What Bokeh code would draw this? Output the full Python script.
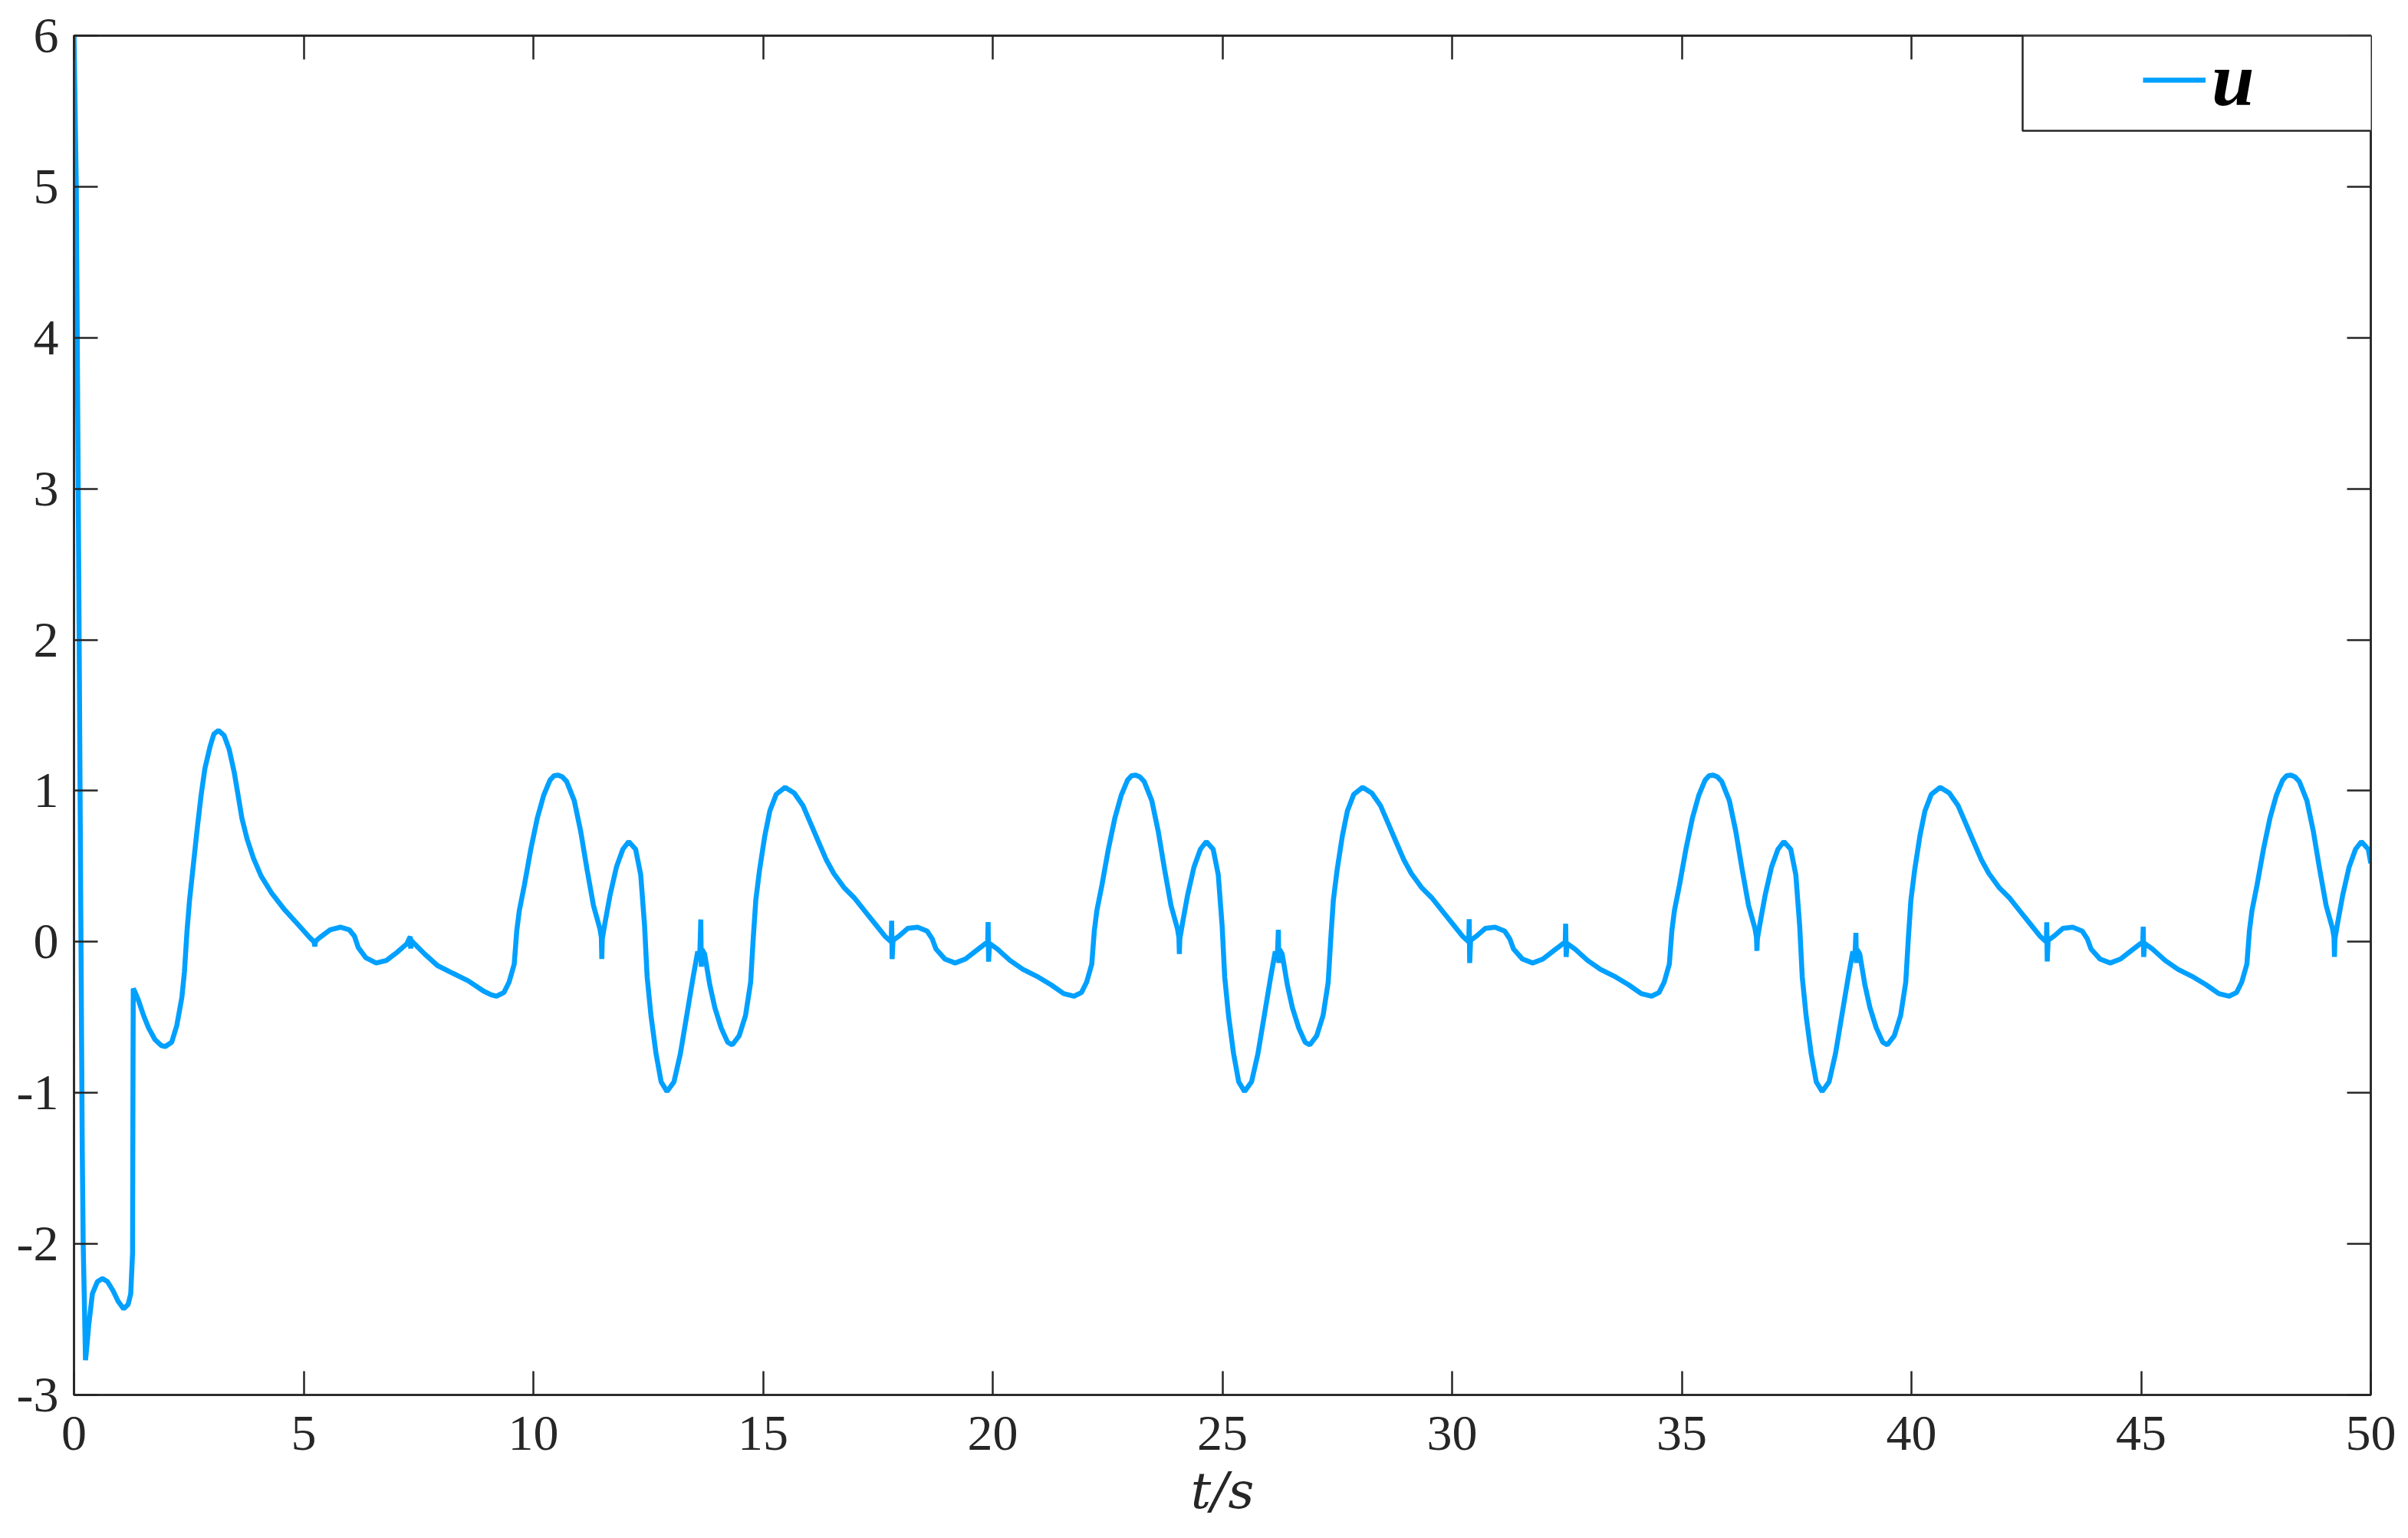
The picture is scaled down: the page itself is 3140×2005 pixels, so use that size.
from bokeh.plotting import figure
from bokeh.models import Range1d, LinearAxis, FixedTicker, Legend, LegendItem, BoxAnnotation
from bokeh.embed import file_html
from bokeh.resources import INLINE

# ---------------- data (t in s, u) ----------------
x_ticks = [0, 5, 10, 15, 20, 25, 30, 35, 40, 45, 50]
x_tick_labels = ["0", "5", "10", "15", "20", "25", "30", "35", "40", "45", "50"]
y_ticks = [-3, -2, -1, 0, 1, 2, 3, 4, 5, 6]
y_tick_labels = ["-3", "-2", "-1", "0", "1", "2", "3", "4", "5", "6"]

seg_start = [(0.0, 6.0), (0.05, 5.0), (0.10, 2.6), (0.18, -1.39), (0.20, -2.0), (0.23, -2.45),
             (0.25, -2.77), (0.28, -2.68), (0.32, -2.54), (0.40, -2.33), (0.51, -2.25), (0.62, -2.23),
             (0.73, -2.25), (0.85, -2.31), (0.96, -2.38), (1.08, -2.43), (1.18, -2.40), (1.235, -2.33),
             (1.275, -2.06), (1.28, -1.39), (1.285, -0.80), (1.29, -0.31), (1.31, -0.32)]

seg_c1 = [(1.40, -0.385), (1.514, -0.487), (1.625, -0.571), (1.764, -0.648), (1.903, -0.687),
          (1.987, -0.693), (2.126, -0.665), (2.237, -0.555), (2.348, -0.368), (2.404, -0.199),
          (2.46, 0.072), (2.515, 0.275), (2.599, 0.512), (2.682, 0.749), (2.766, 0.969),
          (2.849, 1.147), (2.96, 1.291), (3.044, 1.375), (3.144, 1.400), (3.267, 1.367),
          (3.378, 1.274), (3.489, 1.121), (3.573, 0.969), (3.656, 0.817), (3.768, 0.681),
          (3.906, 0.554), (4.073, 0.436), (4.296, 0.326), (4.574, 0.216), (4.853, 0.123),
          (5.13, 0.029), (5.225, 0.000), (5.242, -0.030), (5.26, 0.005), (5.353, 0.029),
          (5.576, 0.080), (5.799, 0.097), (5.993, 0.080), (6.105, 0.038), (6.188, -0.038),
          (6.355, -0.106), (6.578, -0.140), (6.8, -0.123), (7.023, -0.072), (7.245, -0.013),
          (7.32, 0.035), (7.33, -0.045), (7.34, 0.010), (7.412, -0.013), (7.635, -0.081),
          (7.913, -0.157), (8.247, -0.208), (8.581, -0.258), (8.915, -0.326), (9.082, -0.351)]

seg_c2 = [(9.193, -0.360), (9.36, -0.335), (9.471, -0.267), (9.583, -0.148), (9.638, 0.072),
          (9.694, 0.207), (9.805, 0.377), (9.944, 0.613), (10.084, 0.817), (10.223, 0.969),
          (10.362, 1.071), (10.45, 1.100), (10.54, 1.104), (10.63, 1.092), (10.724, 1.062),
          (10.89, 0.935), (11.03, 0.732), (11.169, 0.478), (11.308, 0.241), (11.447, 0.089),
          (11.48, 0.030), (11.49, -0.114), (11.50, 0.020), (11.558, 0.123), (11.669, 0.309),
          (11.808, 0.495), (11.948, 0.613), (12.076, 0.664), (12.226, 0.613), (12.337, 0.444),
          (12.421, 0.106), (12.477, -0.233), (12.56, -0.487), (12.671, -0.741), (12.782, -0.927),
          (12.91, -0.991), (13.061, -0.927), (13.2, -0.741), (13.339, -0.487), (13.478, -0.233),
          (13.578, -0.064), (13.62, -0.120), (13.645, 0.148), (13.655, -0.165), (13.67, -0.050),
          (13.728, -0.080), (13.84, -0.284), (13.951, -0.436), (14.09, -0.571), (14.229, -0.665),
          (14.33, -0.682), (14.48, -0.622), (14.619, -0.487), (14.73, -0.267), (14.786, 0.021),
          (14.842, 0.275), (14.925, 0.478), (15.036, 0.698), (15.148, 0.867), (15.287, 0.977),
          (15.481, 1.023), (15.676, 0.986), (15.871, 0.901), (16.038, 0.783), (16.205, 0.664),
          (16.372, 0.546), (16.539, 0.453), (16.761, 0.360), (16.984, 0.292), (17.206, 0.207),
          (17.429, 0.123), (17.651, 0.038), (17.79, 0.000), (17.80, 0.140), (17.81, -0.114),
          (17.83, 0.010), (17.957, 0.038), (18.152, 0.089), (18.364, 0.097), (18.57, 0.072),
          (18.681, 0.021), (18.764, -0.047), (18.959, -0.114), (19.182, -0.140), (19.404, -0.114),
          (19.655, -0.055), (19.89, 0.000), (19.90, 0.131), (19.91, -0.131), (19.93, -0.010),
          (20.1, -0.047), (20.378, -0.123), (20.656, -0.182), (20.99, -0.233), (21.268, -0.284),
          (21.547, -0.343)]

seg_c3 = [(21.766, -0.360), (21.933, -0.335), (22.044, -0.267), (22.156, -0.148), (22.211, 0.072),
          (22.267, 0.207), (22.378, 0.377), (22.517, 0.613), (22.657, 0.817), (22.796, 0.969),
          (22.935, 1.071), (23.023, 1.100), (23.113, 1.104), (23.203, 1.092), (23.297, 1.062),
          (23.463, 0.935), (23.603, 0.732), (23.742, 0.478), (23.881, 0.241), (24.02, 0.089),
          (24.053, 0.030), (24.063, -0.080), (24.073, 0.020), (24.131, 0.123), (24.242, 0.309),
          (24.381, 0.495), (24.521, 0.613), (24.649, 0.664), (24.799, 0.613), (24.91, 0.444),
          (24.994, 0.106), (25.05, -0.233), (25.133, -0.487), (25.244, -0.741), (25.355, -0.927),
          (25.483, -0.991), (25.634, -0.927), (25.773, -0.741), (25.912, -0.487), (26.051, -0.233),
          (26.151, -0.064), (26.193, -0.120), (26.218, 0.080), (26.228, -0.140), (26.243, -0.050),
          (26.301, -0.080), (26.413, -0.284), (26.524, -0.436), (26.663, -0.571), (26.802, -0.665),
          (26.903, -0.682), (27.053, -0.622), (27.192, -0.487), (27.303, -0.267), (27.359, 0.021),
          (27.415, 0.275), (27.498, 0.478), (27.609, 0.698), (27.721, 0.867), (27.86, 0.977),
          (28.054, 1.023), (28.249, 0.986), (28.444, 0.901), (28.611, 0.783), (28.778, 0.664),
          (28.945, 0.546), (29.112, 0.453), (29.334, 0.360), (29.557, 0.292), (29.779, 0.207),
          (30.002, 0.123), (30.224, 0.038), (30.363, 0.000), (30.373, 0.150), (30.383, -0.140),
          (30.403, 0.010), (30.53, 0.038), (30.725, 0.089), (30.937, 0.097), (31.143, 0.072),
          (31.254, 0.021), (31.337, -0.047), (31.532, -0.114), (31.755, -0.140), (31.977, -0.114),
          (32.228, -0.055), (32.463, 0.000), (32.473, 0.120), (32.483, -0.100), (32.503, -0.010),
          (32.673, -0.047), (32.951, -0.123), (33.229, -0.182), (33.563, -0.233), (33.841, -0.284),
          (34.12, -0.343)]

seg_c4 = [(34.339, -0.360), (34.506, -0.335), (34.617, -0.267), (34.729, -0.148), (34.784, 0.072),
          (34.84, 0.207), (34.951, 0.377), (35.09, 0.613), (35.23, 0.817), (35.369, 0.969),
          (35.508, 1.071), (35.596, 1.100), (35.686, 1.104), (35.776, 1.092), (35.87, 1.062),
          (36.036, 0.935), (36.176, 0.732), (36.315, 0.478), (36.454, 0.241), (36.593, 0.089),
          (36.626, 0.030), (36.636, -0.060), (36.646, 0.020), (36.704, 0.123), (36.815, 0.309),
          (36.954, 0.495), (37.094, 0.613), (37.222, 0.664), (37.372, 0.613), (37.483, 0.444),
          (37.567, 0.106), (37.623, -0.233), (37.706, -0.487), (37.817, -0.741), (37.928, -0.927),
          (38.056, -0.991), (38.207, -0.927), (38.346, -0.741), (38.485, -0.487), (38.624, -0.233),
          (38.724, -0.064), (38.766, -0.120), (38.791, 0.060), (38.801, -0.140), (38.816, -0.050),
          (38.874, -0.080), (38.986, -0.284), (39.097, -0.436), (39.236, -0.571), (39.375, -0.665),
          (39.476, -0.682), (39.626, -0.622), (39.765, -0.487), (39.876, -0.267), (39.932, 0.021),
          (39.988, 0.275), (40.071, 0.478), (40.182, 0.698), (40.294, 0.867), (40.433, 0.977),
          (40.627, 1.023), (40.822, 0.986), (41.017, 0.901), (41.184, 0.783), (41.351, 0.664),
          (41.518, 0.546), (41.685, 0.453), (41.907, 0.360), (42.13, 0.292), (42.352, 0.207),
          (42.575, 0.123), (42.797, 0.038), (42.936, 0.000), (42.946, 0.130), (42.956, -0.130),
          (42.976, 0.010), (43.103, 0.038), (43.298, 0.089), (43.51, 0.097), (43.716, 0.072),
          (43.827, 0.021), (43.91, -0.047), (44.105, -0.114), (44.328, -0.140), (44.55, -0.114),
          (44.801, -0.055), (45.036, 0.000), (45.046, 0.100), (45.056, -0.100), (45.076, -0.010),
          (45.246, -0.047), (45.524, -0.123), (45.802, -0.182), (46.136, -0.233), (46.414, -0.284),
          (46.693, -0.343)]

seg_c5 = [(46.912, -0.360), (47.079, -0.335), (47.19, -0.267), (47.302, -0.148), (47.357, 0.072),
          (47.413, 0.207), (47.524, 0.377), (47.663, 0.613), (47.803, 0.817), (47.942, 0.969),
          (48.081, 1.071), (48.169, 1.100), (48.259, 1.104), (48.349, 1.092), (48.443, 1.062),
          (48.609, 0.935), (48.749, 0.732), (48.888, 0.478), (49.027, 0.241), (49.166, 0.089),
          (49.199, 0.030), (49.209, -0.100), (49.219, 0.020), (49.277, 0.123), (49.388, 0.309),
          (49.527, 0.495), (49.667, 0.613), (49.795, 0.664), (49.945, 0.613), (50.0, 0.520)]

segments = [seg_start, seg_c1, seg_c2, seg_c3, seg_c4, seg_c5]
t = [pt[0] for seg in segments for pt in seg]
u = [pt[1] for seg in segments for pt in seg]

# ---------------- figure ----------------
AX = "#262626"
BLUE = "#00A0FF"
FONT = "Liberation Serif"

p = figure(frame_width=2995, frame_height=1772, output_backend="svg", toolbar_location=None,
           x_range=Range1d(0, 50), y_range=Range1d(-3, 6),
           min_border_left=96, min_border_top=46, min_border_right=41, min_border_bottom=140,
           background_fill_color="white", border_fill_color="white")
p.grid.visible = False
p.outline_line_color = AX
p.outline_line_width = 2.5

r = p.line(t, u, line_color=BLUE, line_width=6.5)


def style(ax, ticks, labels=None):
    ax.ticker = FixedTicker(ticks=ticks)
    ax.axis_line_color = AX
    ax.axis_line_width = 2.5
    ax.major_tick_line_color = AX
    ax.major_tick_line_width = 2.5
    ax.major_tick_in = 31
    ax.major_tick_out = 0
    ax.minor_tick_line_color = None
    ax.major_label_text_font = FONT
    if labels is not None:
        ax.major_label_overrides = {tk: lb for tk, lb in zip(ticks, labels)}
        ax.major_label_text_color = AX
        ax.major_label_text_font_size = "66px"
    else:
        ax.major_label_text_color = None
        ax.major_label_text_font_size = "0px"
        ax.major_label_standoff = 0


xb = p.xaxis[0]
yl = p.yaxis[0]
style(xb, x_ticks, x_tick_labels)
style(yl, y_ticks, y_tick_labels)
xb.major_label_standoff = 28
yl.major_label_standoff = 20
xb.axis_label = "t/s"
xb.axis_label_text_font = "DejaVu Serif"
xb.axis_label_text_font_style = "italic"
xb.axis_label_text_font_size = "66px"
xb.axis_label_text_color = AX
xb.axis_label_standoff = 12

xt = LinearAxis()
style(xt, x_ticks)
p.add_layout(xt, "above")
yr = LinearAxis()
style(yr, y_ticks)
p.add_layout(yr, "right")

# legend box (drawn as an annotation at the frame's top-right corner)
box = BoxAnnotation(left=2541, right=2998, top=1772, bottom=1648,
                    left_units="screen", right_units="screen",
                    top_units="screen", bottom_units="screen",
                    fill_color="white", fill_alpha=1.0,
                    line_color=AX, line_width=2.5, line_alpha=1.0)
p.add_layout(box)

legend = Legend(items=[LegendItem(label="u", renderers=[r])],
                location=(2698, 1657), padding=0, margin=0, spacing=0,
                glyph_width=82, glyph_height=20, label_standoff=8,
                label_text_font=FONT, label_text_font_style="bold italic",
                label_text_font_size="100px", label_text_color="black",
                border_line_alpha=0, background_fill_alpha=0)
p.add_layout(legend, "center")

open("out.html", "w").write(file_html(p, INLINE))
